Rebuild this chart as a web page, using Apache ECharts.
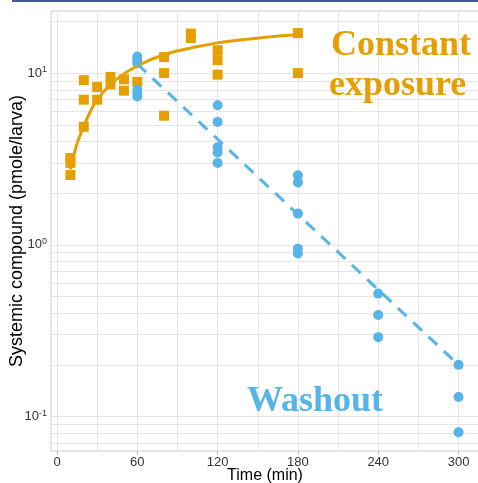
<!DOCTYPE html>
<html><head><meta charset="utf-8">
<script src="https://cdn.jsdelivr.net/npm/echarts@6/dist/echarts.min.js"></script>
<style>html,body{margin:0;padding:0;background:#fff}#c{width:478px;height:483px}</style>
</head><body><div id="c"></div><script>
// Constant exposure (orange squares)
const constTimes  = [10,10,10, 20,20,20, 30,30, 40,40, 50,50, 60, 80,80,80, 100,100, 120,120,120, 180,180];
const constValues = [3.2,3.0,2.55, 9.1,7.0,4.87, 8.3,7.0, 9.5,8.6, 9.2,7.9, 8.9, 12.4,10.0,5.65, 17.0,16.0, 13.6,11.9,9.8, 17.1,10.0];
// Washout (blue circles)
const washTimes  = [60,60,60,60,60,60, 120,120,120,120,120, 180,180,180,180,180, 240,240,240, 300,300,300];
const washValues = [12.5,11.9,11.4,8.0,7.6,7.3, 6.5,5.2,3.7,3.45,3.0, 2.54,2.31,1.52,0.95,0.89, 0.52,0.39,0.29, 0.20,0.13,0.081];
// Fitted curves
const fitTimes  = [10,15,20,25,30,40,50,60,70,80,90,100,120,140,160,180];
const fitValues = [2.75,3.9,4.9,6.0,7.0,8.6,9.9,11.0,12.0,12.8,13.5,14.0,15.0,15.7,16.3,16.7];
const washFitTimes  = [60,300];
const washFitValues = [11.3,0.2];
// Grid lines
const xGrid = [0,30,60,90,120,150,180,210,240,270,300];
const yGrid = [0.07,0.08,0.09,0.1,0.2,0.3,0.4,0.5,0.6,0.7,0.8,0.9,1,2,3,4,5,6,7,8,9,10,20];

const ORANGE = '#E69F00', BLUE = '#56B4E9';
const zip = (a,b) => a.map((v,i)=>[v,b[i]]);
const serif = 'bold 36px "Liberation Serif", serif';

const chart = echarts.init(document.getElementById('c'), null, {renderer:'canvas'});
chart.setOption({
  animation:false,
  backgroundColor:'#fff',
  grid:{left:51, top:11, right:-1, bottom:32, outerBoundsMode:'none', containLabel:false,
        show:true, borderColor:'#cccccc', borderWidth:1},
  xAxis:{
    type:'value', min:-4.5, max:315.3, minInterval:60, maxInterval:60,
    name:'Time (min)', nameLocation:'middle', nameGap:17, nameMoveOverlap:false,
    nameTextStyle:{fontFamily:'Liberation Sans', fontSize:16, color:'#000', verticalAlign:'top'},
    axisLine:{show:false},
    axisTick:{show:true, length:3, lineStyle:{color:'#b3b3b3'}},
    splitLine:{show:false},
    axisLabel:{showMinLabel:false, showMaxLabel:false, margin:5, fontFamily:'Liberation Sans', fontSize:13, color:'#333'}
  },
  yAxis:{
    type:'log', logBase:10, min:0.063, max:23,
    name:'Systemic compound (pmole/larva)', nameLocation:'middle', nameGap:25, nameMoveOverlap:false,
    nameTextStyle:{fontFamily:'Liberation Sans', fontSize:18, color:'#000'},
    axisLine:{show:false},
    axisTick:{show:true, length:3, lineStyle:{color:'#b3b3b3'}},
    splitLine:{show:false},
    axisLabel:{showMinLabel:false, showMaxLabel:false, margin:4,
      formatter:v=>{const e=Math.round(Math.log10(v)); return '{b|10}{s|'+e+'}';},
      rich:{b:{fontFamily:'Liberation Sans', fontSize:13, color:'#333'},
            s:{fontFamily:'Liberation Sans', fontSize:9, color:'#333', verticalAlign:'bottom', padding:[0,0,7,0]}}}
  },
  series:[
    {type:'line', data:[], z:1, silent:true,
     markLine:{silent:true, z:1, symbol:'none', label:{show:false}, animation:false,
       lineStyle:{color:'#e6e6e6', width:1, type:'solid'},
       data: xGrid.map(v=>({xAxis:v})).concat(yGrid.map(v=>({yAxis:v})))}},
    {type:'scatter', data:zip(constTimes,constValues), symbol:'rect', symbolSize:10, itemStyle:{color:ORANGE, opacity:1}, z:3},
    {type:'scatter', data:zip(washTimes,washValues), symbol:'circle', symbolSize:10, itemStyle:{color:BLUE, opacity:1}, z:4},
    {type:'line', data:zip(fitTimes,fitValues), smooth:0.3, showSymbol:false, lineStyle:{color:ORANGE, width:3}, z:5},
    {type:'line', data:zip(washFitTimes,washFitValues), showSymbol:false, lineStyle:{color:BLUE, width:3, type:[12,9]}, z:6}
  ],
  graphic:[
    {type:'rect', left:12, top:0, shape:{width:466, height:2}, style:{fill:'#4657a0'}},
    {type:'text', x:331, y:46, z:10, style:{text:'Constant', font:serif, fill:ORANGE, stroke:null, lineWidth:0, verticalAlign:'middle'}},
    {type:'text', x:329, y:86, z:10, style:{text:'exposure', font:serif, fill:ORANGE, stroke:null, lineWidth:0, verticalAlign:'middle'}},
    {type:'text', x:247, y:402, z:10, style:{text:'Washout', font:serif, fill:BLUE, stroke:null, lineWidth:0, verticalAlign:'middle'}}
  ]
});
</script></body></html>
